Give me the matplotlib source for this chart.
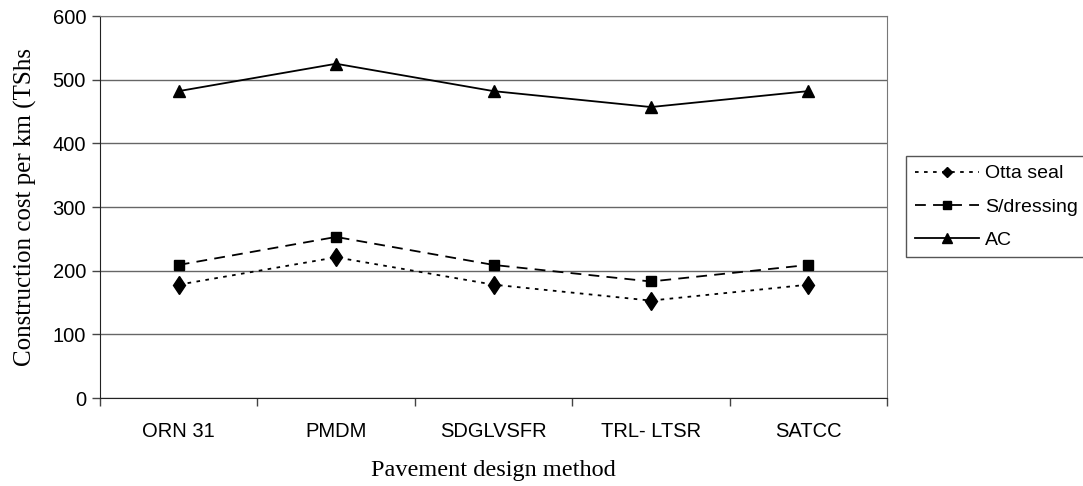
import matplotlib
matplotlib.use('Agg')
import matplotlib.pyplot as plt

# values (construction cost per km)
methods = ['ORN 31', 'PMDM', 'SDGLVSFR', 'TRL- LTSR', 'SATCC']
otta_seal = [178, 221, 178, 153, 178]
s_dressing = [209, 253, 209, 183, 209]
ac = [482, 525, 482, 457, 482]
y_ticks = [0, 100, 200, 300, 400, 500, 600]

fig = plt.figure(figsize=(10.83, 4.86), dpi=100)
ax = fig.add_axes([100 / 1083, 88 / 486, 787 / 1083, 382 / 486])

x = list(range(len(methods)))
ax.plot(x, otta_seal, color='black', lw=1.3, ls=(0, (2, 3)),
        marker='d', ms=9.5, label='Otta seal')
ax.plot(x, s_dressing, color='black', lw=1.3, ls=(0, (6, 4)),
        marker='s', ms=7, label='S/dressing')
ax.plot(x, ac, color='black', lw=1.3, ls='-',
        marker='^', ms=8, label='AC')

ax.set_xlim(-0.5, len(methods) - 0.5)
ax.set_ylim(0, 600)
ax.set_yticks(y_ticks)
ax.yaxis.grid(True, color='#666666', lw=1)
ax.set_axisbelow(True)

# ticks between categories, labels at the centers
ax.set_xticks([i - 0.5 for i in range(len(methods) + 1)])
ax.set_xticklabels([])
ax.set_xticks(x, minor=True)
ax.set_xticklabels(methods, minor=True)
ax.tick_params(axis='x', which='minor', length=0, pad=17)
ax.tick_params(axis='x', which='major', length=6, width=1, color='#444444')
ax.tick_params(axis='y', length=6, width=1, color='#444444', pad=4)

for lab in ax.get_xticklabels(minor=True) + ax.get_yticklabels():
    lab.set_fontfamily('Liberation Sans')
    lab.set_fontsize(14.5)

for s in ['top', 'right']:
    ax.spines[s].set_color('#777777')
for s in ['left', 'bottom']:
    ax.spines[s].set_color('#222222')

ax.set_ylabel('Construction cost per km (TShs', family='Liberation Serif',
              fontsize=18, labelpad=11)
ax.set_xlabel('Pavement design method', family='Liberation Serif',
              fontsize=17.5, labelpad=14)

leg = fig.legend(loc='upper left', bbox_to_anchor=(906 / 1083, 1 - 156 / 486),
                 prop={'family': 'Liberation Sans', 'size': 14},
                 handlelength=3.3, handletextpad=0.3, labelspacing=0.8,
                 borderpad=0.45, fancybox=False, framealpha=1,
                 edgecolor='#555555', borderaxespad=0)
leg.get_frame().set_linewidth(1)
handles = leg.legend_handles
handles[0].set_marker('D')
handles[0].set_markersize(5.5)
handles[1].set_markersize(6)
handles[2].set_markersize(6.5)

fig.savefig('out.png', dpi=100)
